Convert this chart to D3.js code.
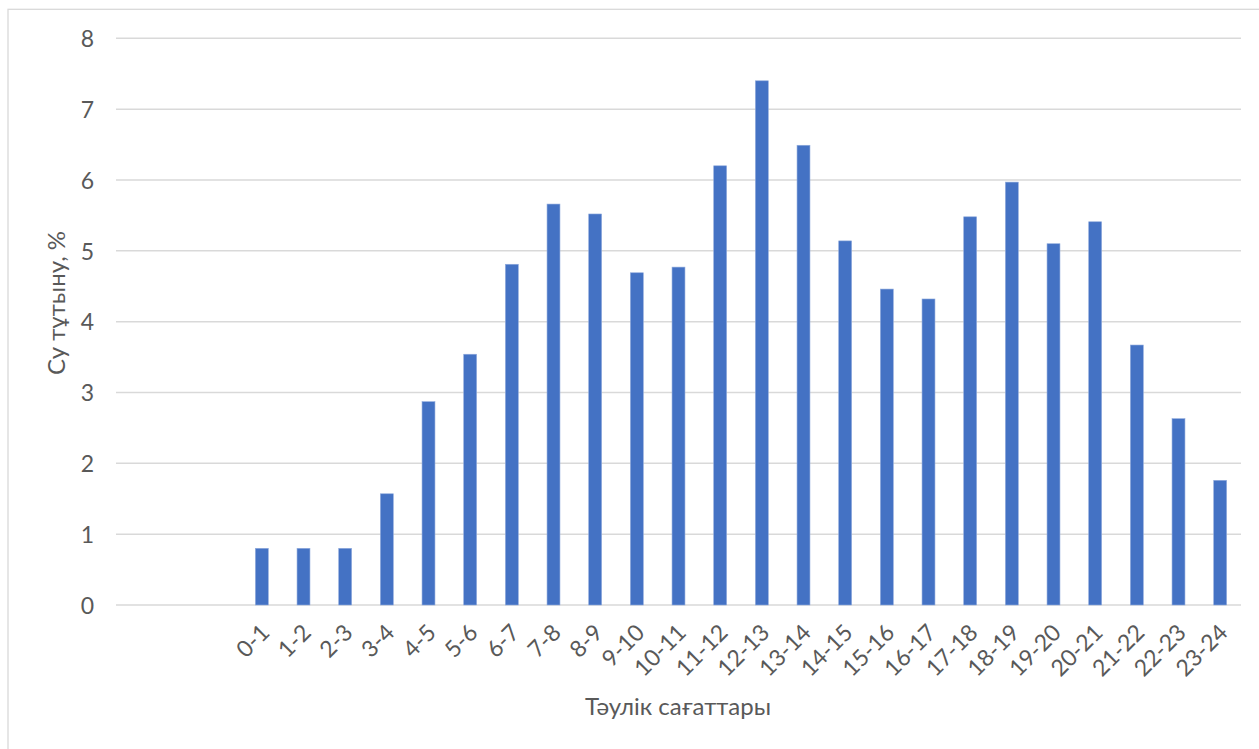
<!DOCTYPE html>
<html>
<head>
<meta charset="utf-8">
<script src="https://cdn.jsdelivr.net/npm/d3@7"></script>
<style>
  html, body { margin: 0; padding: 0; background: #ffffff; }
  svg { display: block; font-family: Lato, "Open Sans", sans-serif; }
</style>
</head>
<body>
<svg id="chart" width="1259" height="749"></svg>
<script>
// Hourly water consumption share, % of the daily total
const hours = ["0-1","1-2","2-3","3-4","4-5","5-6","6-7","7-8","8-9","9-10","10-11","11-12",
               "12-13","13-14","14-15","15-16","16-17","17-18","18-19","19-20","20-21","21-22","22-23","23-24"];
const consumption = [0.80, 0.80, 0.80, 1.57, 2.87, 3.54, 4.81, 5.66, 5.52, 4.69, 4.77, 6.20,
                     7.40, 6.49, 5.14, 4.46, 4.32, 5.48, 5.97, 5.10, 5.41, 3.67, 2.63, 1.76];
const leadingBlankSlots = 3;           // empty categories before the first hour
const yTicks = [0, 1, 2, 3, 4, 5, 6, 7, 8];
const xTitle = "Тәулік сағаттары";
const yTitle = "Су тұтыну, %";

const svg = d3.select("#chart");
const textColor = "#595959";
const gridColor = "#d9d9d9";
const barColor = "#4472c4";

const plot = { left: 116, right: 1241, top: 38.3, bottom: 605 };

// chart area frame
svg.append("rect")
  .attr("x", 8).attr("y", 9.3)
  .attr("width", 1300).attr("height", 800)
  .attr("fill", "none").attr("stroke", gridColor).attr("stroke-width", 1.3);

const slots = d3.range(leadingBlankSlots + hours.length);
const labelOf = i => i < leadingBlankSlots ? "" : hours[i - leadingBlankSlots];

const x = d3.scaleBand()
  .domain(slots)
  .range([plot.left, plot.right])
  .paddingInner(0.69)
  .paddingOuter(0.345);

const y = d3.scaleLinear().domain([0, 8]).range([plot.bottom, plot.top]);

// horizontal gridlines
svg.append("g")
  .selectAll("line")
  .data(yTicks)
  .join("line")
  .attr("x1", plot.left).attr("x2", plot.right)
  .attr("y1", d => y(d)).attr("y2", d => y(d))
  .attr("stroke", gridColor).attr("stroke-width", 1.5);

// y axis labels
const yAxis = d3.axisLeft(y).tickValues(yTicks).tickSize(0).tickPadding(0).tickFormat(d3.format("d"));
svg.append("g")
  .attr("transform", `translate(${plot.left - 22},0)`)
  .call(yAxis)
  .call(g => g.select(".domain").remove())
  .call(g => g.selectAll("text")
    .attr("fill", textColor)
    .attr("font-size", 23)
    .attr("font-family", "Lato, sans-serif")
    .attr("dy", "0.36em"));

// bars
const data = consumption.map((v, i) => ({ slot: i + leadingBlankSlots, value: v }));
svg.append("g")
  .selectAll("rect")
  .data(data)
  .join("rect")
  .attr("x", d => x(d.slot))
  .attr("width", x.bandwidth())
  .attr("y", d => y(d.value))
  .attr("height", d => y(0) - y(d.value))
  .attr("fill", barColor)
  .attr("stroke", "#8faadc")
  .attr("stroke-width", 0.6);

// x axis category labels, rotated
const xAxis = d3.axisBottom(x).tickSize(0).tickPadding(0).tickFormat(labelOf);
svg.append("g")
  .attr("transform", `translate(0,${plot.bottom})`)
  .call(xAxis)
  .call(g => g.select(".domain").remove())
  .call(g => g.selectAll("text")
    .attr("fill", textColor)
    .attr("font-size", 23)
    .attr("font-family", "Lato, sans-serif")
    .attr("text-anchor", "end")
    .attr("dy", null)
    .attr("y", 0)
    .attr("transform", "translate(9,29) rotate(-45)"));

// axis titles
svg.append("text")
  .attr("x", (plot.left + plot.right) / 2 - 0.5)
  .attr("y", 715)
  .attr("text-anchor", "middle")
  .attr("fill", textColor)
  .attr("font-size", 24)
  .text(xTitle);

svg.append("text")
  .attr("transform", `translate(65,303) rotate(-90)`)
  .attr("text-anchor", "middle")
  .attr("fill", textColor)
  .attr("font-size", 24)
  .text(yTitle);
</script>
</body>
</html>
